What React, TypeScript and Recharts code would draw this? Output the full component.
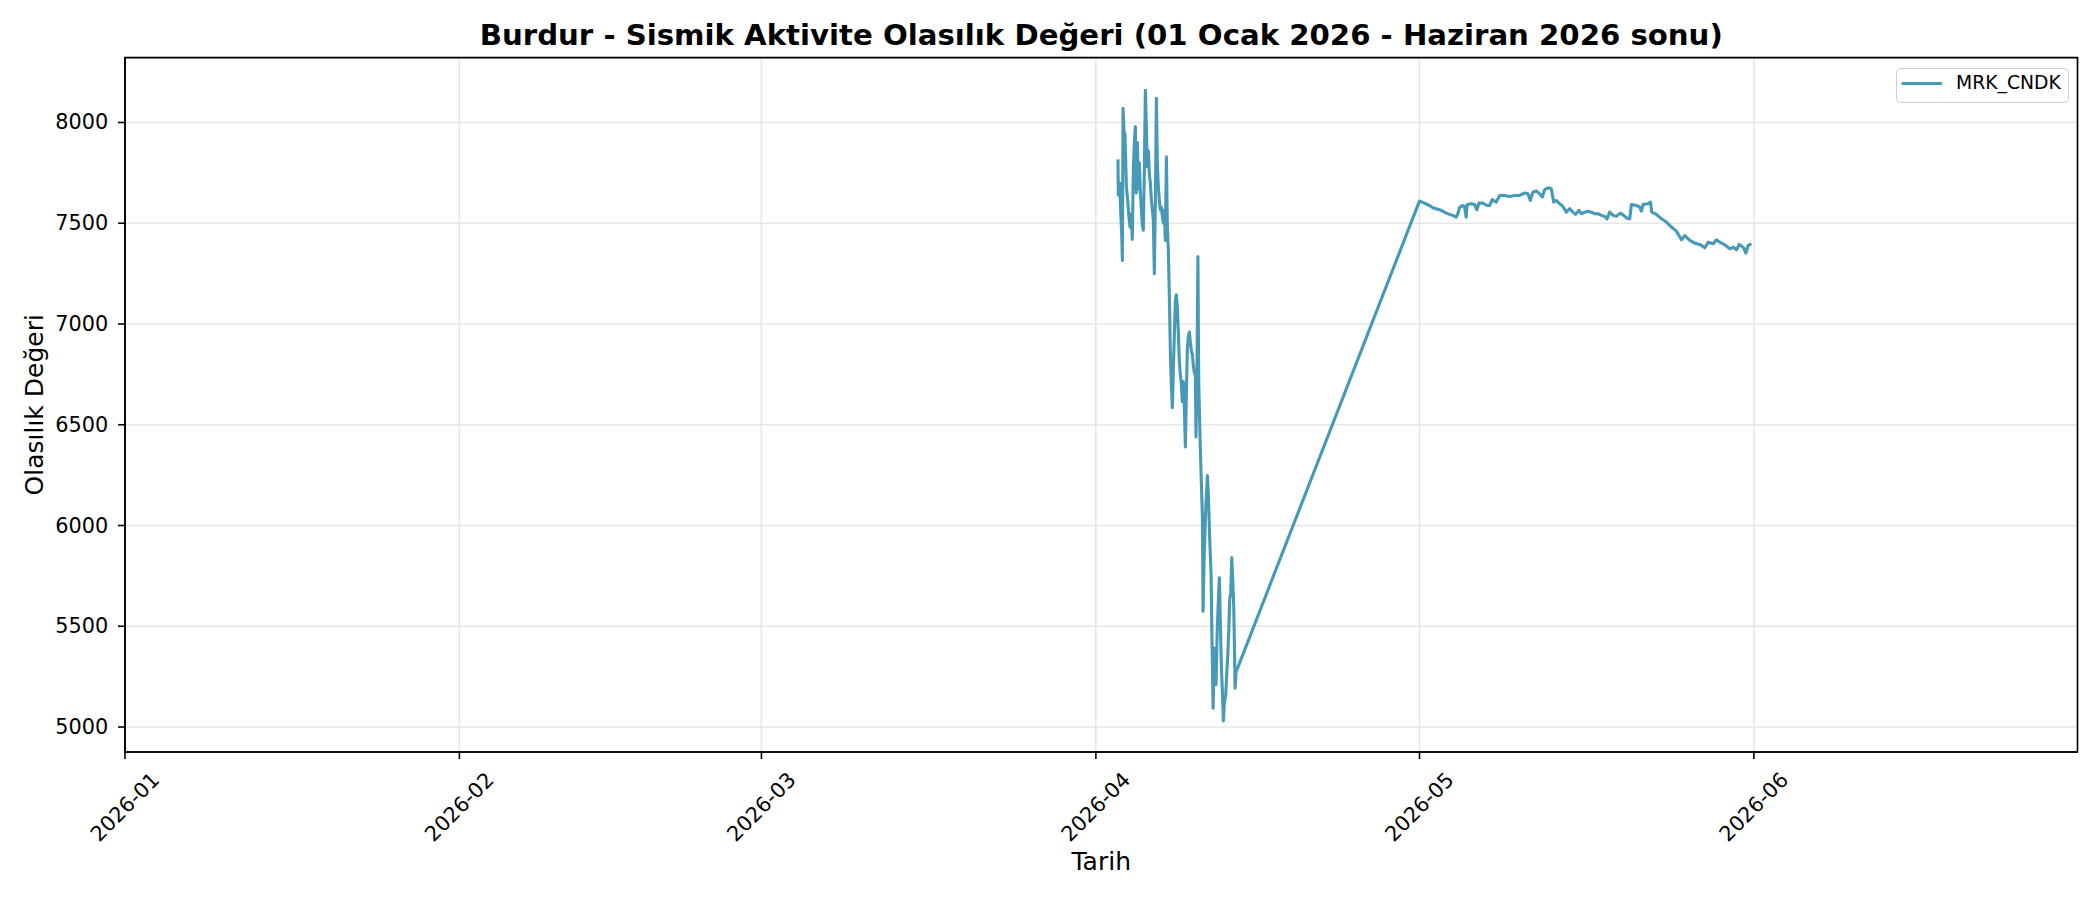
import React from 'react';
import { LineChart, Line, XAxis, YAxis, CartesianGrid, Legend, ReferenceArea } from 'recharts';

const TITLE = 'Burdur - Sismik Aktivite Olasılık Değeri (01 Ocak 2026 - Haziran 2026 sonu)';
const X_LABEL = 'Tarih';
const Y_LABEL = 'Olasılık Değeri';
const SERIES_NAME = 'MRK_CNDK';

// [days after 2026-04-01 00:00, value]
const aprilReadings: [number, number][] = [
  [2.05, 7817], [2.08, 7640], [2.21, 7700], [2.30, 7565], [2.39, 7455], [2.46, 7315],
  [2.52, 8070], [2.61, 7955], [2.70, 7945], [2.83, 7680], [2.95, 7615], [3.07, 7530],
  [3.17, 7480], [3.26, 7545], [3.38, 7420], [3.48, 7780], [3.57, 7900], [3.66, 7980],
  [3.75, 7650], [3.85, 7900], [3.94, 7670], [4.03, 7800], [4.13, 7650], [4.22, 7570],
  [4.31, 7490], [4.40, 7465], [4.50, 7780], [4.59, 8160], [4.68, 7980], [4.77, 7780],
  [4.87, 7860], [4.96, 7745], [5.05, 7700], [5.15, 7615], [5.24, 7565], [5.33, 7515],
  [5.42, 7250], [5.52, 7615], [5.61, 8120], [5.70, 7800], [5.79, 7680], [5.89, 7615],
  [5.98, 7565], [6.07, 7580], [6.17, 7530], [6.26, 7500], [6.35, 7565], [6.44, 7415],
  [6.54, 7830], [6.63, 7480], [6.72, 7365], [6.82, 7115], [6.91, 6850], [7.00, 6700],
  [7.09, 6585], [7.19, 6785], [7.28, 6950], [7.37, 7115], [7.46, 7145], [7.56, 7080],
  [7.65, 6950], [7.74, 6815], [7.83, 6750], [7.93, 6700], [8.02, 6615], [8.11, 6715],
  [8.21, 6565], [8.30, 6390], [8.39, 6650], [8.48, 6875], [8.58, 6940], [8.67, 6960],
  [8.76, 6910], [8.86, 6865], [8.95, 6845], [9.04, 6790], [9.13, 6760], [9.23, 6745],
  [9.28, 6440], [9.38, 6800], [9.46, 7335], [9.54, 6700], [9.69, 6372], [9.88, 6040],
  [9.94, 5575], [10.03, 5824], [10.19, 6090], [10.34, 6248], [10.43, 6156], [10.56, 5924],
  [10.68, 5757], [10.74, 5525], [10.87, 5093], [10.96, 5392], [11.05, 5300], [11.14, 5210],
  [11.24, 5458], [11.33, 5591], [11.45, 5741], [11.55, 5492], [11.64, 5292], [11.73, 5176],
  [11.82, 5030], [11.92, 5126], [12.04, 5160], [12.13, 5259], [12.23, 5359], [12.32, 5475],
  [12.41, 5641], [12.50, 5660], [12.60, 5841], [12.69, 5725], [12.78, 5600], [12.84, 5425],
  [12.91, 5193], [13.00, 5276], [13.12, 5290],
];

// [days after 2026-05-01 00:00, value]
const mayReadings: [number, number][] = [
  [0.00, 7610], [0.46, 7600], [0.93, 7588], [1.24, 7577], [1.55, 7572], [2.01, 7564],
  [2.48, 7550], [2.78, 7544], [3.09, 7539], [3.40, 7530], [3.56, 7547], [3.71, 7577],
  [3.96, 7588], [4.18, 7583], [4.33, 7530], [4.42, 7593], [4.80, 7597], [5.10, 7593],
  [5.32, 7567], [5.51, 7600], [5.88, 7600], [6.25, 7588], [6.50, 7588], [6.74, 7617],
  [7.12, 7605], [7.43, 7638], [7.89, 7638], [8.35, 7633], [8.82, 7638], [9.28, 7638],
  [9.75, 7650], [10.05, 7646], [10.27, 7613], [10.52, 7655], [10.83, 7660], [11.14, 7646],
  [11.39, 7630], [11.60, 7666], [11.91, 7676], [12.22, 7671], [12.44, 7605], [12.68, 7613],
  [12.93, 7600], [13.30, 7583], [13.61, 7555], [13.92, 7572], [14.23, 7555], [14.48, 7544],
  [14.79, 7564], [15.00, 7547], [15.31, 7555], [15.62, 7559], [15.93, 7555], [16.24, 7547],
  [16.55, 7547], [16.86, 7539], [17.17, 7534], [17.39, 7522], [17.63, 7555], [17.94, 7539],
  [18.25, 7534], [18.62, 7550], [18.93, 7539], [19.24, 7525], [19.49, 7522], [19.65, 7593],
  [20.11, 7588], [20.42, 7580], [20.57, 7560], [20.73, 7593], [21.19, 7597], [21.41, 7605],
  [21.53, 7555], [21.97, 7544], [22.43, 7522], [22.89, 7506], [23.36, 7481], [23.82, 7461],
  [24.29, 7418], [24.60, 7439], [25.06, 7415], [25.52, 7401], [25.99, 7395], [26.45, 7378],
  [26.76, 7406], [27.23, 7398], [27.53, 7418], [27.84, 7406], [28.31, 7393], [28.77, 7373],
  [29.08, 7381], [29.39, 7368], [29.64, 7395], [30.01, 7381], [30.26, 7352], [30.47, 7390],
  [30.78, 7398],
];

const xTickMonths = [0, 1, 2, 3, 4, 5]; // Jan..Jun 2026
const yTicks = [5000, 5500, 6000, 6500, 7000, 7500, 8000];
const yDomain: [number, number] = [4876, 8322];

const DAY = 86400000;
const aprilStart = Date.UTC(2026, 3, 1);
const mayStart = Date.UTC(2026, 4, 1);
const xDomain: [number, number] = [Date.UTC(2026, 0, 1), Date.UTC(2026, 6, 1)];
const xTicks = xTickMonths.map((m) => Date.UTC(2026, m, 1));

const data = [
  ...aprilReadings.map(([d, v]) => ({ t: aprilStart + d * DAY, v })),
  ...mayReadings.map(([d, v]) => ({ t: mayStart + d * DAY, v })),
];

const FONT = '"DejaVu Sans", sans-serif';
const LINE_COLOR = '#4799B8';

const fmtMonth = (t: number) => {
  const d = new Date(t);
  return `${d.getUTCFullYear()}-${String(d.getUTCMonth() + 1).padStart(2, '0')}`;
};

const XTick = (props: any) => {
  const { x, y, payload } = props;
  const cy = y + 48;
  return (
    <text
      x={x}
      y={cy}
      textAnchor="middle"
      dominantBaseline="central"
      transform={`rotate(-45, ${x}, ${cy})`}
      fontSize={20.8}
      fontFamily={FONT}
      fill="#000"
    >
      {fmtMonth(payload.value)}
    </text>
  );
};

const YTick = (props: any) => {
  const { x, y, payload } = props;
  return (
    <text x={x} y={y} textAnchor="end" dominantBaseline="central" fontSize={20.8} fontFamily={FONT} fill="#000">
      {payload.value}
    </text>
  );
};

const XTitle = (props: any) => {
  const vb = props.viewBox || {};
  return (
    <text x={vb.x + vb.width / 2} y={870} textAnchor="middle" fontSize={25} fontFamily={FONT} fill="#000">
      {X_LABEL}
    </text>
  );
};

const YTitle = (props: any) => {
  const vb = props.viewBox || {};
  const cy = vb.y + vb.height / 2;
  return (
    <text x={42.7} y={cy} textAnchor="middle" transform={`rotate(-90, 42.7, ${cy})`} fontSize={25} fontFamily={FONT} fill="#000">
      {Y_LABEL}
    </text>
  );
};

const LegendBox = () => (
  <div
    style={{
      boxSizing: 'border-box',
      width: 173,
      height: 35,
      border: '1.5px solid #cccccc',
      borderRadius: 5,
      background: 'rgba(255,255,255,0.8)',
      position: 'relative',
      fontFamily: FONT,
    }}
  >
    <svg width={173} height={35} style={{ position: 'absolute', left: -1.5, top: -1.5 }}>
      <line x1={6.6} x2={47} y1={16.6} y2={16.6} stroke={LINE_COLOR} strokeWidth={3} />
      <text x={61} y={22.3} fontSize={18.75} fontFamily={FONT} fill="#000">
        {SERIES_NAME}
      </text>
    </svg>
  </div>
);

export default function App() {
  return (
    <div style={{ position: 'absolute', left: 0, top: 0, width: 2100, height: 900, background: '#fff' }}>
      <div
        style={{
          position: 'absolute',
          left: 125,
          width: 1952.5,
          top: 21.3,
          textAlign: 'center',
          fontFamily: FONT,
          fontWeight: 'bold',
          fontSize: 29.2,
          lineHeight: '29.2px',
          color: '#000',
          whiteSpace: 'nowrap',
          zIndex: 2,
        }}
      >
        {TITLE}
      </div>
      <LineChart
        width={2100}
        height={900}
        data={data}
        margin={{ top: 57.6, right: 22.5, left: 25, bottom: 18 }}
      >
        <CartesianGrid stroke="#e6e6e6" strokeWidth={1.6} />
        <XAxis
          dataKey="t"
          type="number"
          domain={xDomain}
          ticks={xTicks}
          allowDataOverflow
          height={130}
          tickSize={7}
          tickMargin={0}
          tickLine={{ stroke: '#000', strokeWidth: 1.6 }}
          axisLine={{ stroke: '#000', strokeWidth: 1.6 }}
          tick={<XTick />}
          interval={0}
          label={<XTitle />}
        />
        <YAxis
          type="number"
          domain={yDomain}
          ticks={yTicks}
          allowDataOverflow
          width={100}
          tickSize={7}
          tickMargin={9.7}
          tickLine={{ stroke: '#000', strokeWidth: 1.6 }}
          axisLine={{ stroke: '#000', strokeWidth: 1.6 }}
          tick={<YTick />}
          interval={0}
          label={<YTitle />}
        />
        <ReferenceArea
          x1={xDomain[0]}
          x2={xDomain[1]}
          y1={yDomain[0]}
          y2={yDomain[1]}
          fill="none"
          fillOpacity={0}
          stroke="#000"
          strokeWidth={1.6}
          ifOverflow="visible"
        />
        <Line
          type="linear"
          dataKey="v"
          name={SERIES_NAME}
          stroke={LINE_COLOR}
          strokeWidth={3.1}
          dot={false}
          strokeLinejoin="round"
          isAnimationActive={false}
        />
        <Legend
          layout="horizontal"
          verticalAlign="middle"
          align="center"
          content={<LegendBox />}
          wrapperStyle={{ top: 67.7, left: 1895.7, width: 173, height: 35 }}
        />
      </LineChart>
    </div>
  );
}
